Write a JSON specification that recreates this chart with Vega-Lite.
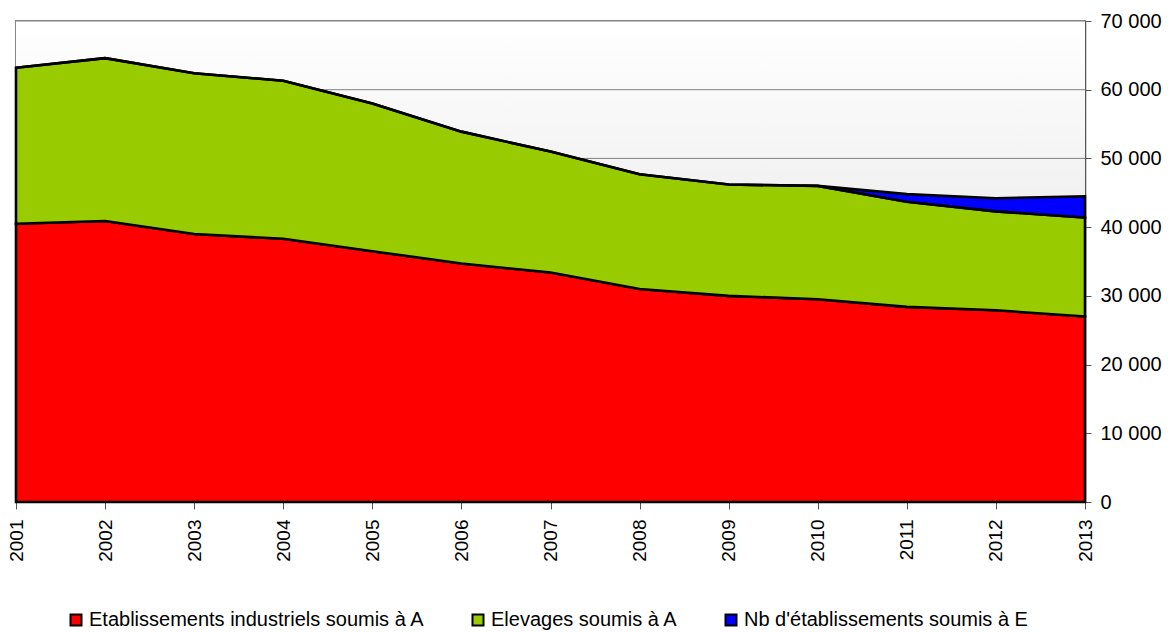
{
  "$schema": "https://vega.github.io/schema/vega-lite/v6.json",
  "width": 1069,
  "height": 481,
  "autosize": {"type": "none"},
  "padding": {"left": 16, "top": 21, "right": 86, "bottom": 130},
  "background": "#ffffff",
  "config": {
    "font": "Liberation Sans",
    "view": {"stroke": "#888888", "strokeWidth": 2},
    "axis": {"labelFont": "Liberation Sans", "labelColor": "#000000", "titleFont": "Liberation Sans"},
    "legend": {"labelFont": "Liberation Sans"}
  },
  "datasets": {
    "series": [
      {"year": 2001, "serie": "Etablissements industriels soumis à A", "n": 40500, "k": 1},
      {"year": 2002, "serie": "Etablissements industriels soumis à A", "n": 40900, "k": 1},
      {"year": 2003, "serie": "Etablissements industriels soumis à A", "n": 39000, "k": 1},
      {"year": 2004, "serie": "Etablissements industriels soumis à A", "n": 38300, "k": 1},
      {"year": 2005, "serie": "Etablissements industriels soumis à A", "n": 36500, "k": 1},
      {"year": 2006, "serie": "Etablissements industriels soumis à A", "n": 34700, "k": 1},
      {"year": 2007, "serie": "Etablissements industriels soumis à A", "n": 33400, "k": 1},
      {"year": 2008, "serie": "Etablissements industriels soumis à A", "n": 31000, "k": 1},
      {"year": 2009, "serie": "Etablissements industriels soumis à A", "n": 30000, "k": 1},
      {"year": 2010, "serie": "Etablissements industriels soumis à A", "n": 29500, "k": 1},
      {"year": 2011, "serie": "Etablissements industriels soumis à A", "n": 28400, "k": 1},
      {"year": 2012, "serie": "Etablissements industriels soumis à A", "n": 27900, "k": 1},
      {"year": 2013, "serie": "Etablissements industriels soumis à A", "n": 27000, "k": 1},
      {"year": 2001, "serie": "Elevages soumis à A", "n": 22700, "k": 2},
      {"year": 2002, "serie": "Elevages soumis à A", "n": 23700, "k": 2},
      {"year": 2003, "serie": "Elevages soumis à A", "n": 23400, "k": 2},
      {"year": 2004, "serie": "Elevages soumis à A", "n": 23000, "k": 2},
      {"year": 2005, "serie": "Elevages soumis à A", "n": 21500, "k": 2},
      {"year": 2006, "serie": "Elevages soumis à A", "n": 19200, "k": 2},
      {"year": 2007, "serie": "Elevages soumis à A", "n": 17600, "k": 2},
      {"year": 2008, "serie": "Elevages soumis à A", "n": 16700, "k": 2},
      {"year": 2009, "serie": "Elevages soumis à A", "n": 16200, "k": 2},
      {"year": 2010, "serie": "Elevages soumis à A", "n": 16500, "k": 2},
      {"year": 2011, "serie": "Elevages soumis à A", "n": 15300, "k": 2},
      {"year": 2012, "serie": "Elevages soumis à A", "n": 14400, "k": 2},
      {"year": 2013, "serie": "Elevages soumis à A", "n": 14400, "k": 2},
      {"year": 2001, "serie": "Nb d'établissements soumis à E", "n": 0, "k": 3},
      {"year": 2002, "serie": "Nb d'établissements soumis à E", "n": 0, "k": 3},
      {"year": 2003, "serie": "Nb d'établissements soumis à E", "n": 0, "k": 3},
      {"year": 2004, "serie": "Nb d'établissements soumis à E", "n": 0, "k": 3},
      {"year": 2005, "serie": "Nb d'établissements soumis à E", "n": 0, "k": 3},
      {"year": 2006, "serie": "Nb d'établissements soumis à E", "n": 0, "k": 3},
      {"year": 2007, "serie": "Nb d'établissements soumis à E", "n": 0, "k": 3},
      {"year": 2008, "serie": "Nb d'établissements soumis à E", "n": 0, "k": 3},
      {"year": 2009, "serie": "Nb d'établissements soumis à E", "n": 0, "k": 3},
      {"year": 2010, "serie": "Nb d'établissements soumis à E", "n": 0, "k": 3},
      {"year": 2011, "serie": "Nb d'établissements soumis à E", "n": 1100, "k": 3},
      {"year": 2012, "serie": "Nb d'établissements soumis à E", "n": 1900, "k": 3},
      {"year": 2013, "serie": "Nb d'établissements soumis à E", "n": 3100, "k": 3}
    ],
    "grid": [
      {"g": 10000}, {"g": 20000}, {"g": 30000}, {"g": 40000}, {"g": 50000}, {"g": 60000}, {"g": 70000}
    ]
  },
  "layer": [
    {
      "data": {"values": [{"a": 1}]},
      "mark": {
        "type": "rect",
        "color": {
          "gradient": "linear", "x1": 0, "y1": 0, "x2": 0, "y2": 1,
          "stops": [{"offset": 0, "color": "#ffffff"}, {"offset": 1, "color": "#d9d9d9"}]
        }
      },
      "encoding": {
        "x": {"datum": 2001, "type": "quantitative", "scale": {"domain": [2001, 2013], "nice": false, "zero": false}},
        "x2": {"datum": 2013},
        "y": {"datum": 0, "type": "quantitative", "scale": {"domain": [0, 70000], "nice": false}},
        "y2": {"datum": 70000}
      }
    },
    {
      "data": {"name": "grid"},
      "mark": {"type": "rule", "color": "#808080", "strokeWidth": 1},
      "encoding": {
        "y": {"field": "g", "type": "quantitative"}
      }
    },
    {
      "data": {"name": "series"},
      "mark": {"type": "area", "stroke": "#000000", "strokeWidth": 2.6, "strokeJoin": "miter", "opacity": 1, "fillOpacity": 1},
      "encoding": {
        "x": {
          "field": "year", "type": "quantitative",
          "axis": {
            "title": null, "values": [2001, 2002, 2003, 2004, 2005, 2006, 2007, 2008, 2009, 2010, 2011, 2012, 2013],
            "format": "d", "labelAngle": -90, "labelFontSize": 19, "labelPadding": 10,
            "tickSize": 7, "tickColor": "#555555", "domainColor": "#555555", "grid": false, "labelOverlap": false, "labelFlush": false
          }
        },
        "y": {
          "field": "n", "type": "quantitative", "stack": "zero",
          "axis": {
            "title": null, "orient": "right", "values": [0, 10000, 20000, 30000, 40000, 50000, 60000, 70000],
            "labelExpr": "datum.value == 0 ? '0' : format(datum.value / 1000, 'd') + ' 000'",
            "labelFontSize": 20, "labelPadding": 9, "tickSize": 6, "tickColor": "#555555",
            "domainColor": "#555555", "domainWidth": 1.5, "grid": false, "labelFlush": false
          }
        },
        "order": {"field": "k", "type": "quantitative"},
        "color": {
          "field": "serie", "type": "nominal",
          "scale": {
            "domain": ["Etablissements industriels soumis à A", "Elevages soumis à A", "Nb d'établissements soumis à E"],
            "range": ["#ff0000", "#99cc00", "#0000ff"]
          },
          "legend": {
            "title": null, "orient": "none", "direction": "horizontal", "legendX": 50, "legendY": 589,
            "symbolType": "square", "symbolSize": 121, "symbolStrokeColor": "#000000", "symbolStrokeWidth": 2,
            "symbolOpacity": 1, "symbolFillOpacity": 1, "labelFontSize": 20, "labelColor": "#000000", "labelOffset": 3,
            "columnPadding": 43, "padding": 0, "labelLimit": 500
          }
        }
      }
    }
  ]
}
